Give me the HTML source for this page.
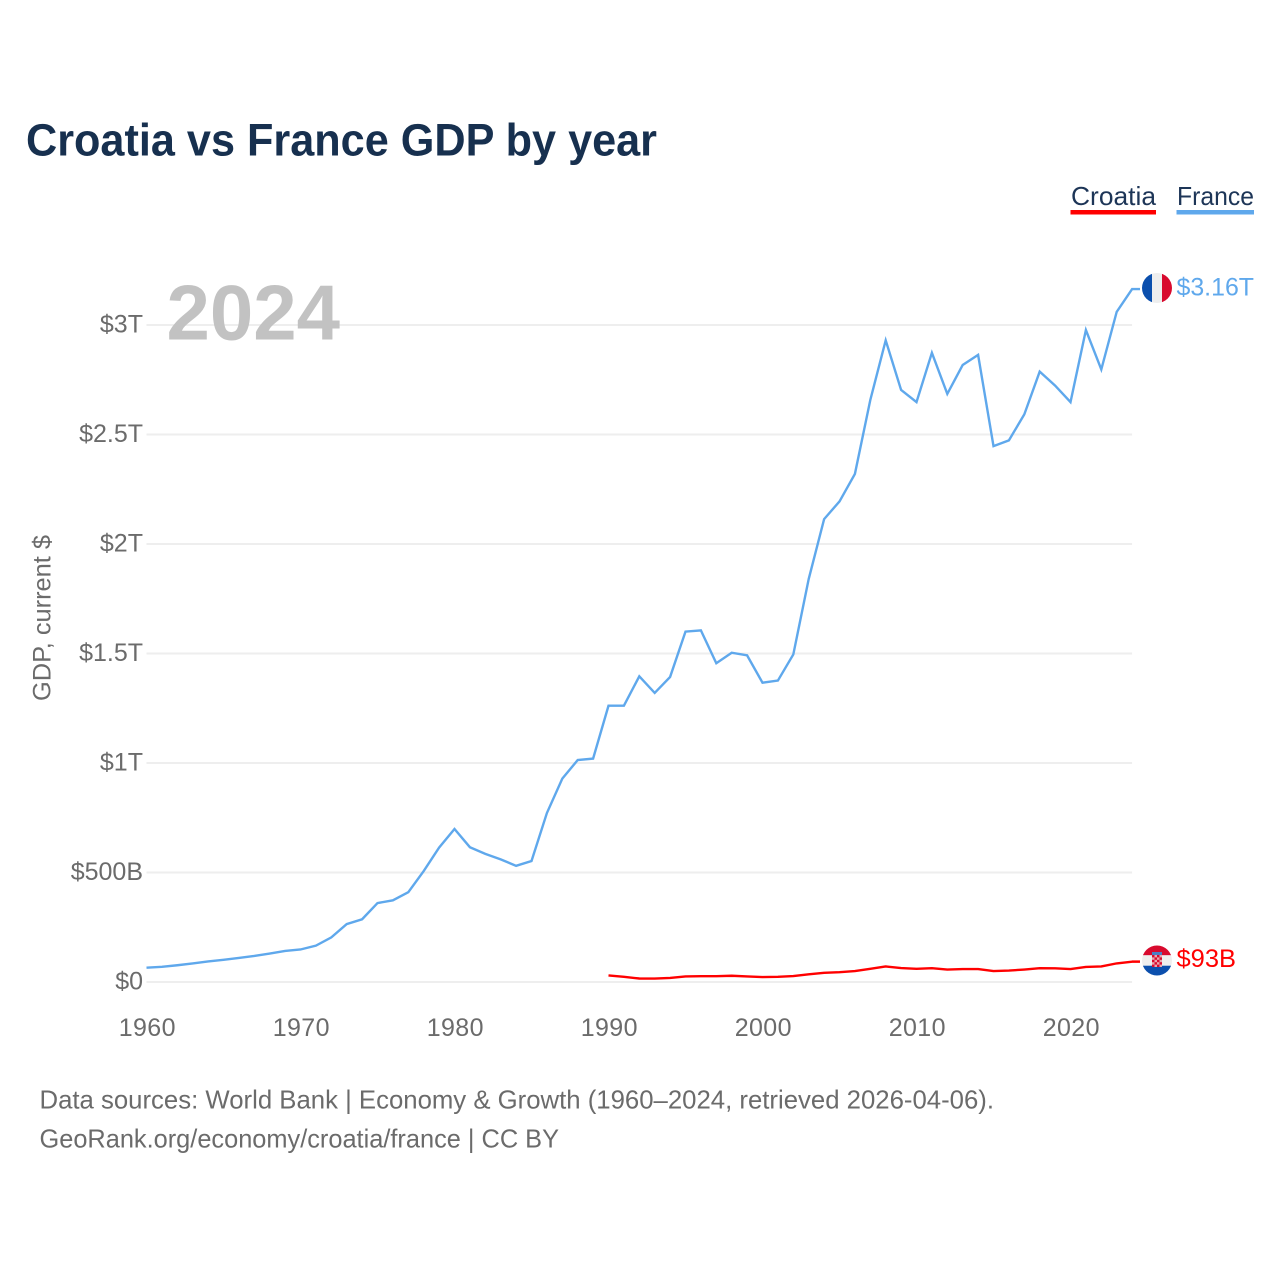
<!DOCTYPE html>
<html lang="en">
<head>
<meta charset="utf-8">
<title>Croatia vs France GDP by year</title>
<style>
html,body{margin:0;padding:0;background:#fff;}
svg{display:block;font-family:"Liberation Sans",sans-serif;}
</style>
</head>
<body>
<svg id="chart" xmlns="http://www.w3.org/2000/svg" width="1280" height="1280" viewBox="0 0 1280 1280">
  <rect x="0" y="0" width="1280" height="1280" fill="#fff"/>
  <text x="26" y="155.5" font-size="45" font-weight="700" fill="#17304f" textLength="631" lengthAdjust="spacingAndGlyphs">Croatia vs France GDP by year</text>

  <g>
    <text x="1071" y="205" font-size="26" fill="#1d3557" textLength="85" lengthAdjust="spacingAndGlyphs">Croatia</text>
    <rect x="1070.5" y="210" width="85.5" height="4.5" fill="#ff0000"/>
  </g>
  <g>
    <text x="1177" y="205" font-size="26" fill="#1d3557" textLength="77" lengthAdjust="spacingAndGlyphs">France</text>
    <rect x="1176.5" y="210" width="77.5" height="4.5" fill="#5fa8ec"/>
  </g>

  <g id="grid"></g>
  <g id="yticks"></g>
  <g id="xticks"></g>

  <text x="166.5" y="339.5" font-size="78" font-weight="700" fill="#c2c2c2" textLength="173.5" lengthAdjust="spacingAndGlyphs">2024</text>
  <text transform="translate(50.5 701) rotate(-90)" x="0" y="0" font-size="25" fill="#6b6b6b" textLength="166" lengthAdjust="spacingAndGlyphs">GDP, current $</text>

  <g id="series"></g>

  <g id="flag-france">
    <clipPath id="clip-fr"><circle cx="1157" cy="288" r="15"/></clipPath>
    <g clip-path="url(#clip-fr)">
      <rect x="1142" y="273" width="10" height="30" fill="#0b4fad"/>
      <rect x="1152" y="273" width="10" height="30" fill="#eeeeee"/>
      <rect x="1162" y="273" width="10" height="30" fill="#d80a2e"/>
    </g>
  </g>
  <g id="flag-croatia">
    <clipPath id="clip-hr"><circle cx="1157" cy="960.5" r="15"/></clipPath>
    <g clip-path="url(#clip-hr)">
      <rect x="1142" y="945" width="30" height="10.3" fill="#d80a2e"/>
      <rect x="1142" y="955.3" width="30" height="10.4" fill="#eeeeee"/>
      <rect x="1142" y="965.7" width="30" height="10.5" fill="#0b4fad"/>
      <rect x="1152" y="952" width="10" height="3" fill="#4a7fc4"/>
      <rect x="1152" y="955" width="10" height="12" fill="#e8a5ad"/>
      <rect x="1152" y="955" width="2.5" height="2.4" fill="#d80a2e"/>
      <rect x="1157" y="955" width="2.5" height="2.4" fill="#d80a2e"/>
      <rect x="1154.5" y="957.4" width="2.5" height="2.4" fill="#d80a2e"/>
      <rect x="1159.5" y="957.4" width="2.5" height="2.4" fill="#d80a2e"/>
      <rect x="1152" y="959.8" width="2.5" height="2.4" fill="#d80a2e"/>
      <rect x="1157" y="959.8" width="2.5" height="2.4" fill="#d80a2e"/>
      <rect x="1154.5" y="962.2" width="2.5" height="2.4" fill="#d80a2e"/>
      <rect x="1159.5" y="962.2" width="2.5" height="2.4" fill="#d80a2e"/>
      <rect x="1152" y="964.6" width="2.5" height="2.4" fill="#d80a2e"/>
      <rect x="1157" y="964.6" width="2.5" height="2.4" fill="#d80a2e"/>
    </g>
  </g>

  <text id="label-france" x="1176.5" y="295.5" font-size="25" fill="#5fa8ec" textLength="77.5" lengthAdjust="spacingAndGlyphs">$3.16T</text>
  <text id="label-croatia" x="1176.5" y="967" font-size="25" fill="#ff0000" textLength="59.5" lengthAdjust="spacingAndGlyphs">$93B</text>

  <text x="39.5" y="1108.5" font-size="26" fill="#6b6b6b" textLength="954.5" lengthAdjust="spacingAndGlyphs">Data sources: World Bank | Economy &amp; Growth (1960–2024, retrieved 2026-04-06).</text>
  <text x="39.5" y="1147.5" font-size="26" fill="#6b6b6b" textLength="519.5" lengthAdjust="spacingAndGlyphs">GeoRank.org/economy/croatia/france | CC BY</text>
</svg>
<script>
const franceStartYear = 1960;
const croatiaStartYear = 1990;
const franceGdpTrillions = [0.0655,0.0695,0.0765,0.085,0.094,0.1015,0.11,0.119,0.13,0.142,0.1485,0.166,0.2035,0.2645,0.2865,0.3605,0.373,0.41,0.5065,0.6135,0.6985,0.6155,0.585,0.56,0.5305,0.5525,0.7715,0.9285,1.0135,1.02,1.2615,1.2615,1.396,1.32,1.393,1.6,1.6055,1.4555,1.5035,1.4915,1.3665,1.3765,1.4955,1.84,2.1135,2.1945,2.32,2.6575,2.93,2.7035,2.648,2.873,2.6855,2.8175,2.8635,2.447,2.473,2.592,2.787,2.7235,2.648,2.977,2.797,3.06,3.164];
const croatiaGdpTrillions = [0.03,0.0235,0.016,0.0155,0.0185,0.0255,0.0265,0.0265,0.0285,0.0255,0.0225,0.0235,0.027,0.035,0.042,0.045,0.05,0.06,0.071,0.0635,0.06,0.063,0.057,0.059,0.059,0.05,0.052,0.057,0.063,0.0625,0.059,0.069,0.071,0.085,0.093];
const yTickValues = [0,0.5,1,1.5,2,2.5,3];
const yTickLabels = ['$0','$500B','$1T','$1.5T','$2T','$2.5T','$3T'];
const xTickYears = [1960,1970,1980,1990,2000,2010,2020];

const NS = 'http://www.w3.org/2000/svg';
const xScale = function (year) { return 146.5 + (year - 1960) * 15.4; };
const yScale = function (value) { return 982 - value * 219; };

function makeSvg(tag) {
  return document.createElementNS(NS, tag);
}

const gridGroup = document.getElementById('grid');
const yTickGroup = document.getElementById('yticks');
yTickValues.forEach(function (value, i) {
  const grid = makeSvg('line');
  
  
  grid.setAttribute('x1', xScale(1960));
  grid.setAttribute('x2', xScale(2024));
  grid.setAttribute('y1', yScale(value));
  grid.setAttribute('y2', yScale(value));
  grid.setAttribute('stroke', '#eeeeee');
  grid.setAttribute('stroke-width', '2');
  gridGroup.appendChild(grid);

  const label = makeSvg('text');
  
  
  label.setAttribute('x', 143);
  label.setAttribute('y', yScale(value) + 7.5);
  label.setAttribute('text-anchor', 'end');
  label.setAttribute('font-size', '25');
  label.setAttribute('fill', '#6b6b6b');
  label.textContent = yTickLabels[i];
  yTickGroup.appendChild(label);
});

const xTickGroup = document.getElementById('xticks');
xTickYears.forEach(function (year) {
  const label = makeSvg('text');
  
  
  label.setAttribute('x', xScale(year) + 0.8);
  label.setAttribute('y', 1036);
  label.setAttribute('text-anchor', 'middle');
  label.setAttribute('font-size', '25');
  label.setAttribute('letter-spacing', '0.4');
  label.setAttribute('fill', '#6b6b6b');
  label.textContent = String(year);
  xTickGroup.appendChild(label);
});

function buildPoints(values, startYear) {
  const pts = values.map(function (value, i) {
    return xScale(startYear + i).toFixed(2) + ',' + yScale(value).toFixed(2);
  });
  const last = values[values.length - 1];
  pts.push('1140,' + yScale(last).toFixed(2));
  return pts.join(' ');
}

const seriesGroup = document.getElementById('series');

const franceLine = makeSvg('polyline');


franceLine.setAttribute('points', buildPoints(franceGdpTrillions, franceStartYear));
franceLine.setAttribute('fill', 'none');
franceLine.setAttribute('stroke', '#5fa8ec');
franceLine.setAttribute('stroke-width', '2.4');
franceLine.setAttribute('stroke-linejoin', 'miter');
seriesGroup.appendChild(franceLine);

const croatiaLine = makeSvg('polyline');


croatiaLine.setAttribute('points', buildPoints(croatiaGdpTrillions, croatiaStartYear));
croatiaLine.setAttribute('fill', 'none');
croatiaLine.setAttribute('stroke', '#ff0000');
croatiaLine.setAttribute('stroke-width', '2.4');
croatiaLine.setAttribute('stroke-linejoin', 'round');
seriesGroup.appendChild(croatiaLine);
</script>
</body>
</html>
